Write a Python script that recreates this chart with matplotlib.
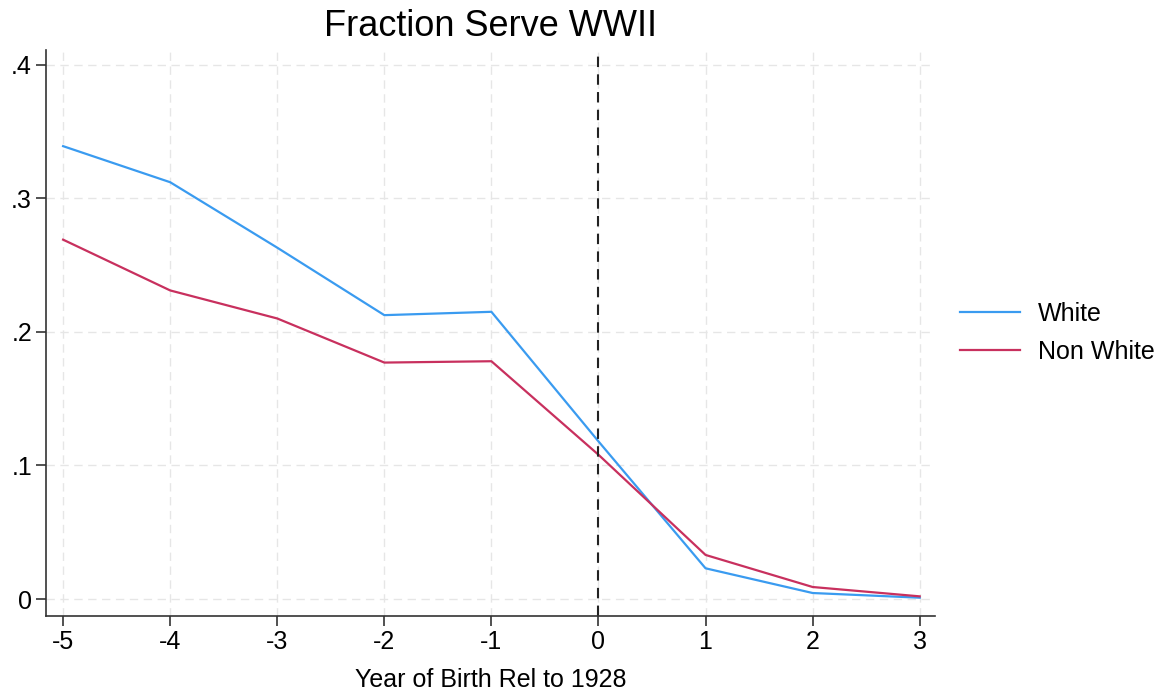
import numpy as np
import matplotlib.pyplot as plt

plt.rcParams.update({
    'font.family': 'Liberation Sans',
    'font.size': 18,
})

# data
years = [-5, -4, -3, -2, -1, 0, 1, 2, 3]
white = [0.339, 0.312, 0.263, 0.2125, 0.215, 0.118, 0.023, 0.0045, 0.001]
non_white = [0.269, 0.231, 0.210, 0.177, 0.178, 0.108, 0.033, 0.009, 0.002]

yticks = [0, 0.1, 0.2, 0.3, 0.4]
ytick_labels = ['0', '.1', '.2', '.3', '.4']

fig = plt.figure(figsize=(11.64, 6.94), dpi=100)
ax = fig.add_axes([0.0395, 0.1124, 0.7635, 0.8156])

ax.plot(years, white, color='#3a9bf0', lw=1.6, label='White')
ax.plot(years, non_white, color='#c8305e', lw=1.6, label='Non White')
ax.axvline(0, color='#222222', lw=1.5, ls=(0, (5, 3.5)))

ax.set_xlim(-5.16, 3.14)
ax.set_ylim(-0.0127, 0.411)
ax.set_xticks(years)
ax.set_xticklabels([str(y) for y in years])
ax.set_yticks(yticks)
ax.set_yticklabels(ytick_labels)

ax.grid(True, color='#e6e6e6', lw=1.0, ls=(0, (6, 4)))
ax.set_axisbelow(True)
for s in ['top', 'right']:
    ax.spines[s].set_visible(False)
for s in ['left', 'bottom']:
    ax.spines[s].set_color('#333333')
    ax.spines[s].set_linewidth(1.2)
ax.tick_params(direction='out', length=7, width=1.2, color='#333333', pad=3)

ax.set_xlabel('Year of Birth Rel to 1928', labelpad=10)
ax.set_title('Fraction Serve WWII', fontsize=26, pad=10)

ax.legend(loc='center left', bbox_to_anchor=(1.028, 0.5), frameon=False,
          borderaxespad=0, borderpad=0, handlelength=2.4, handletextpad=0.75,
          labelspacing=0.55, fontsize=18)

fig.savefig('out.png', dpi=100, facecolor='white')
